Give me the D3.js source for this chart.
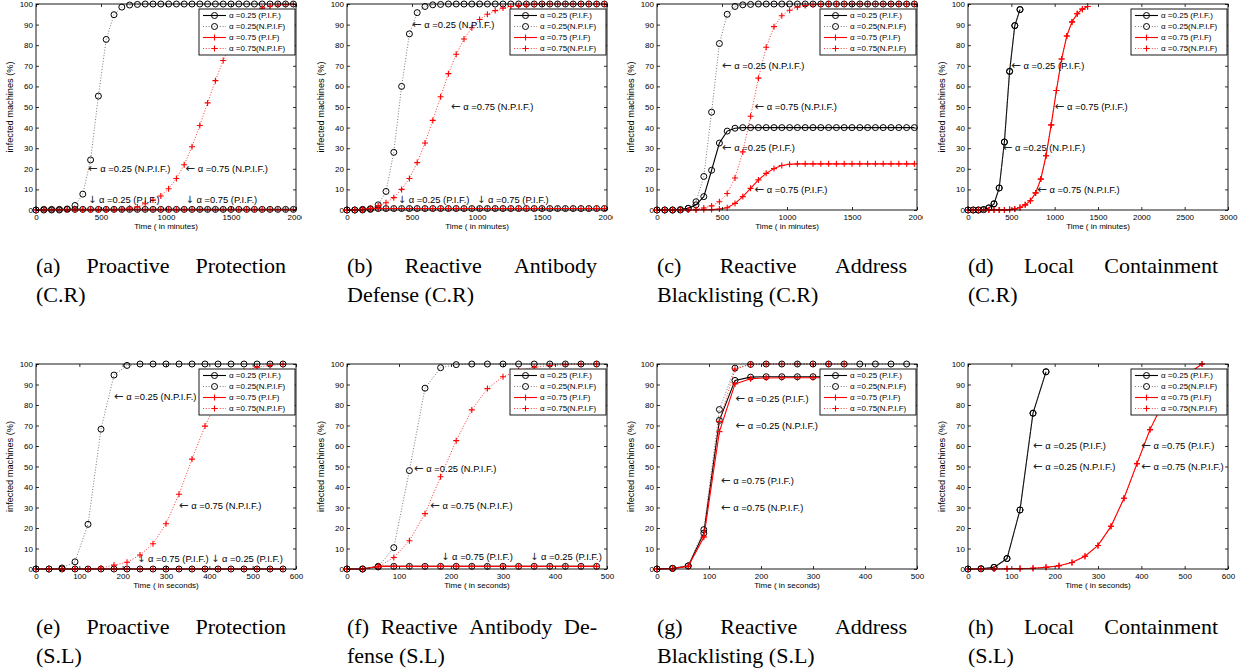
<!DOCTYPE html>
<html>
<head>
<meta charset="utf-8">
<style>
    body {
        margin: 0;
        background: #fff;
    }
    svg {
        display: block;
    }
</style>
<script src="https://cdn.jsdelivr.net/npm/d3@7"></script>
</head>
<body>
<svg id="fig" width="1255" height="672"></svg>
<script>
// time samples
var tMinutes = [0, 60, 120, 180, 240, 300, 360, 420, 480, 540, 600, 660, 720, 780, 840, 900, 960, 1020, 1080, 1140,
    1200, 1260, 1320, 1380, 1440, 1500, 1560, 1620, 1680, 1740, 1800, 1860, 1920, 1980];
var tSeconds = [0, 30, 60, 90, 120, 150, 180, 210, 240, 270, 300, 330, 360, 390, 420, 450, 480, 510, 540, 570];

var yTickValues = [0, 10, 20, 30, 40, 50, 60, 70, 80, 90, 100];
var xTicks2000 = [0, 500, 1000, 1500, 2000];
var xTicks3000 = [0, 500, 1000, 1500, 2000, 2500, 3000];
var xTicks600 = [0, 100, 200, 300, 400, 500, 600];
var xTicks500 = [0, 100, 200, 300, 400, 500];

var legendLabels = ['\u03b1 =0.25 (P.I.F.)', '\u03b1 =0.25(N.P.I.F)', '\u03b1 =0.75 (P.I.F)', '\u03b1 =0.75(N.P.I.F)'];

// (a) proactive protection, C.R
var aPif25 = [0, 0.3, 0.3, 0.3, 0.3, 0.3, 0.3, 0.3, 0.3, 0.3, 0.3, 0.3, 0.3, 0.3, 0.3, 0.3, 0.3, 0.3, 0.3, 0.3,
    0.3, 0.3, 0.3, 0.3, 0.3, 0.3, 0.3, 0.3, 0.3, 0.3, 0.3, 0.3, 0.3, 0.3];
var aNpif25 = [0, 0, 0, 0, 0.5, 2.2, 7.7, 24.3, 55.3, 82.8, 94.8, 98.5, 99.5, 99.8, 100, 100, 100, 100, 100, 100,
    100, 100, 100, 100, 100, 100, 100, 100, 100, 100, 100, 100, 100, 100];
var aPif75 = [0, 0.2, 0.2, 0.2, 0.2, 0.2, 0.2, 0.2, 0.2, 0.2, 0.2, 0.2, 0.2, 0.2, 0.2, 0.2, 0.2, 0.2, 0.2, 0.2,
    0.2, 0.2, 0.2, 0.2, 0.2, 0.2, 0.2, 0.2, 0.2, 0.2, 0.2, 0.2, 0.2, 0.2];
var aNpif75 = [0, 0, 0, 0, 0, 0, 0, 0, 0, 0, 0, 0.3, 1.0, 1.5, 3, 4.8, 6.8, 10.3, 15.3, 22,
    30.7, 41, 52, 62.8, 72.6, 81, 88, 93, 96, 98, 99, 99.5, 99.7, 99.9];

// (b) reactive antibody defense, C.R
var bPif25 = [0, 0, 0.3, 0.6, 0.7, 0.7, 0.7, 0.7, 0.7, 0.7, 0.7, 0.7, 0.7, 0.7, 0.7, 0.7, 0.7, 0.7, 0.7, 0.7,
    0.7, 0.7, 0.7, 0.7, 0.7, 0.7, 0.7, 0.7, 0.7, 0.7, 0.7, 0.7, 0.7, 0.7];
var bNpif25 = [0, 0, 0, 0.3, 2.5, 9, 28, 60, 85.5, 95.8, 98.8, 99.6, 99.8, 100, 100, 100, 100, 100, 100, 100,
    100, 100, 100, 100, 100, 100, 100, 100, 100, 100, 100, 100, 100, 100];
var bPif75 = [0, 0, 0.3, 0.6, 0.7, 0.7, 0.7, 0.7, 0.7, 0.7, 0.7, 0.7, 0.7, 0.7, 0.7, 0.7, 0.7, 0.7, 0.7, 0.7,
    0.7, 0.7, 0.7, 0.7, 0.7, 0.7, 0.7, 0.7, 0.7, 0.7, 0.7, 0.7, 0.7, 0.7];
var bNpif75 = [0, 0, 0, 0.7, 2, 3.5, 6, 10, 15.3, 23, 32.5, 43.5, 55, 66.2, 75.6, 83, 88.5, 92.5, 95, 96.8,
    98, 98.8, 99.3, 99.6, 99.8, 100, 100, 100, 100, 100, 100, 100, 100, 100];

// (c) reactive address blacklisting, C.R
var cPif25 = [0, 0, 0, 0.2, 0.8, 2.5, 6.5, 19.3, 32.5, 38.3, 39.7, 40, 40, 40, 40, 40, 40, 40, 40, 40,
    40, 40, 40, 40, 40, 40, 40, 40, 40, 40, 40, 40, 40, 40];
var cNpif25 = [0, 0, 0, 0, 0.8, 4, 16.3, 47.5, 80.8, 95, 98.8, 99.6, 99.8, 100, 100, 100, 100, 100, 100, 100,
    100, 100, 100, 100, 100, 100, 100, 100, 100, 100, 100, 100, 100, 100];
var cPif75 = [0, 0, 0, 0, 0, 0, 0.1, 0.2, 0.5, 1.1, 3.2, 6.5, 10.5, 14.6, 17.8, 20.1, 21.6, 22.2, 22.4, 22.4,
    22.4, 22.4, 22.4, 22.4, 22.4, 22.4, 22.4, 22.4, 22.4, 22.4, 22.4, 22.4, 22.4, 22.4];
var cNpif75 = [0, 0, 0, 0, 0, 0.3, 1, 2, 4, 8, 15.5, 28.2, 45.5, 64, 79, 89, 94.3, 97, 98.5, 99.3,
    99.6, 99.8, 100, 100, 100, 100, 100, 100, 100, 100, 100, 100, 100, 100];

// (d) local containment, C.R
var dPif25 = [0, 0, 0, 0.2, 1, 3, 10.7, 33, 67.3, 89.5, 97.3];
var dNpif25 = [0, 0, 0, 0.2, 1, 3, 10.7, 33, 67.3, 89.5, 97.3];
var dPif75 = [0, 0, 0, 0, 0, 0, 0, 0, 0.2, 0.5, 1.2, 2.5, 4.5, 8.3, 15, 26.3, 41.3, 58, 73.3, 84.5,
    91.3, 95.3, 97.5, 98.8];
var dNpif75 = [0, 0, 0, 0, 0, 0, 0, 0, 0.2, 0.5, 1.2, 2.5, 4.5, 8.3, 15, 26.3, 41.3, 58, 73.3, 84.5,
    91.3, 95.3, 97.5, 98.8];

// (e) proactive protection, S.L
var ePif25 = [0, 0, 0, 0, 0, 0, 0, 0, 0, 0, 0, 0, 0, 0, 0, 0, 0, 0, 0, 0];
var eNpif25 = [0, 0, 0.5, 3.5, 21.8, 68.2, 94.6, 99.3, 100, 100, 100, 100, 100, 100, 100, 100, 100, 100, 100, 100];
var ePif75 = [0, 0, 0, 0, 0, 0, 0, 0, 0, 0, 0, 0, 0, 0, 0, 0, 0, 0, 0, 0];
var eNpif75 = [0, 0, 0, 0, 0, 0.5, 1.9, 3.3, 6.8, 12.3, 22.1, 36.5, 53.6, 69.7, 83, 92, 96.5, 98.5, 99.3, 99.8];

// (f) reactive antibody defense, S.L
var fPif25 = [0, 0, 1.3, 1.3, 1.3, 1.3, 1.3, 1.3, 1.3, 1.3, 1.3, 1.3, 1.3, 1.3, 1.3, 1.3, 1.3];
var fNpif25 = [0, 0, 1, 10.4, 48, 88.2, 98.2, 99.7, 100, 100, 100, 100, 100, 100, 100, 100, 100];
var fPif75 = [0, 0, 1.3, 1.3, 1.3, 1.3, 1.3, 1.3, 1.3, 1.3, 1.3, 1.3, 1.3, 1.3, 1.3, 1.3, 1.3];
var fNpif75 = [0, 0, 1, 5.6, 13.8, 27, 45, 62.6, 77.6, 88, 93.8, 96.8, 98.4, 99.3, 99.7, 99.9, 100];

// (g) reactive address blacklisting, S.L
var gPif25 = [0, 0.3, 1.5, 17.5, 72.5, 92, 93.6, 93.8, 93.8, 93.8, 93.8, 93.8, 93.8, 93.8, 93.8, 93.8, 93.8];
var gNpif25 = [0, 0.3, 1.5, 19.2, 77.8, 98, 99.8, 100, 100, 100, 100, 100, 100, 100, 100, 100, 100];
var gPif75 = [0, 0.2, 1.3, 15.5, 67, 90.3, 92.8, 93.2, 93.3, 93.3, 93.3, 93.3, 93.3];
var gNpif75 = [0, 0.2, 1.3, 16, 72, 97.5, 99.8, 100, 100, 100, 100, 100, 100];

// (h) local containment, S.L
var hPif25 = [0, 0.1, 0.8, 5.1, 28.8, 76, 96.2];
var hNpif25 = [0, 0.1, 0.8, 5.1, 28.8, 76, 96.2];
var hPif75 = [0, 0, 0, 0.1, 0.2, 0.4, 0.8, 1.6, 3.2, 6.2, 11.5, 20.8, 34.5, 51.4, 68, 81, 90, 95.5, 100];
var hNpif75 = [0, 0, 0, 0.1, 0.2, 0.4, 0.8, 1.6, 3.2, 6.2, 11.5, 20.8, 34.5, 51.4, 68, 81, 90, 95.5, 100];

// text notes: [arrow, label, time, percent]
var aNotes = [['\u2190', '\u03b1 =0.25 (N.P.I.F.)', 400, 20], ['\u2190', '\u03b1 =0.75 (N.P.I.F.)', 1150, 20],
    ['\u2193', '\u03b1 =0.25 (P.I.F.)', 400, 5], ['\u2193', '\u03b1 =0.75 (P.I.F.)', 1150, 5]];
var bNotes = [['\u2190', '\u03b1 =0.25 (N.P.I.F.)', 500, 90], ['\u2190', '\u03b1 =0.75 (N.P.I.F.)', 800, 50],
    ['\u2193', '\u03b1 =0.25 (P.I.F.)', 390, 5], ['\u2193', '\u03b1 =0.75 (P.I.F.)', 1000, 5]];
var cNotes = [['\u2190', '\u03b1 =0.25 (N.P.I.F.)', 500, 70], ['\u2190', '\u03b1 =0.75 (N.P.I.F.)', 750, 50],
    ['\u2190', '\u03b1 =0.25 (P.I.F.)', 500, 30], ['\u2190', '\u03b1 =0.75 (P.I.F.)', 750, 10]];
var dNotes = [['\u2190', '\u03b1 =0.25 (P.I.F.)', 500, 70], ['\u2190', '\u03b1 =0.75 (P.I.F.)', 1000, 50],
    ['\u2190', '\u03b1 =0.25 (N.P.I.F.)', 400, 30], ['\u2190', '\u03b1 =0.75 (N.P.I.F.)', 800, 10]];
var eNotes = [['\u2190', '\u03b1 =0.25 (N.P.I.F.)', 180, 84], ['\u2190', '\u03b1 =0.75 (N.P.I.F.)', 330, 31],
    ['\u2193', '\u03b1 =0.75 (P.I.F.)', 233, 5], ['\u2193', '\u03b1 =0.25 (P.I.F.)', 404, 5]];
var fNotes = [['\u2190', '\u03b1 =0.25 (N.P.I.F.)', 129, 49], ['\u2190', '\u03b1 =0.75 (N.P.I.F.)', 160, 31],
    ['\u2193', '\u03b1 =0.75 (P.I.F.)', 181, 6], ['\u2193', '\u03b1 =0.25 (P.I.F.)', 352, 6]];
var gNotes = [['\u2190', '\u03b1 =0.25 (P.I.F.)', 151, 83], ['\u2190', '\u03b1 =0.25 (N.P.I.F.)', 151, 70],
    ['\u2190', '\u03b1 =0.75 (P.I.F.)', 123, 43], ['\u2190', '\u03b1 =0.75 (N.P.I.F.)', 123, 30]];
var hNotes = [['\u2190', '\u03b1 =0.25 (P.I.F.)', 150, 60], ['\u2190', '\u03b1 =0.25 (N.P.I.F.)', 150, 50],
    ['\u2190', '\u03b1 =0.75 (P.I.F.)', 400, 60], ['\u2190', '\u03b1 =0.75 (N.P.I.F.)', 400, 50]];

var captionFirst = ['(a) Proactive Protection', '(b) Reactive Antibody', '(c) Reactive Address', '(d) Local Containment',
    '(e) Proactive Protection', '(f) Reactive Antibody De-', '(g) Reactive Address', '(h) Local Containment'];
var captionSecond = ['(C.R)', 'Defense (C.R)', 'Blacklisting (C.R)', '(C.R)',
    '(S.L)', 'fense (S.L)', 'Blacklisting (S.L)', '(S.L)'];

var panels = [
    {t: tMinutes, xMax: 2000, xTicks: xTicks2000, series: [aPif25, aNpif25, aPif75, aNpif75], notes: aNotes, xlabel: 'Time ( in minutes)', clip: true},
    {t: tMinutes, xMax: 2000, xTicks: xTicks2000, series: [bPif25, bNpif25, bPif75, bNpif75], notes: bNotes, xlabel: 'Time ( in minutes)', clip: true},
    {t: tMinutes, xMax: 2000, xTicks: xTicks2000, series: [cPif25, cNpif25, cPif75, cNpif75], notes: cNotes, xlabel: 'Time ( in minutes)', clip: true},
    {t: tMinutes, xMax: 3000, xTicks: xTicks3000, series: [dPif25, dNpif25, dPif75, dNpif75], notes: dNotes, xlabel: 'Time ( in minutes)'},
    {t: tSeconds, xMax: 600, xTicks: xTicks600, series: [ePif25, eNpif25, ePif75, eNpif75], notes: eNotes, xlabel: 'Time ( in seconds)'},
    {t: tSeconds, xMax: 500, xTicks: xTicks500, series: [fPif25, fNpif25, fPif75, fNpif75], notes: fNotes, xlabel: 'Time ( in seconds)'},
    {t: tSeconds, xMax: 500, xTicks: xTicks500, series: [gPif25, gNpif25, gPif75, gNpif75], notes: gNotes, xlabel: 'Time ( in seconds)'},
    {t: tSeconds, xMax: 600, xTicks: xTicks600, series: [hPif25, hNpif25, hPif75, hNpif75], notes: hNotes, xlabel: 'Time ( in seconds)'}
];

// line styles in legend order
var styles = [
    {color: '#000', dotted: false, marker: 'circle'},
    {color: '#000', dotted: true, marker: 'circle'},
    {color: '#f00', dotted: false, marker: 'plus'},
    {color: '#f00', dotted: true, marker: 'plus'}
];

var sans = '"Liberation Sans", Arial, Helvetica, sans-serif';
var serif = '"Liberation Serif", "Times New Roman", serif';

var colLeft = [36, 347, 657, 968];
var rowTop = [4, 364];
var rowHeight = [206, 205];
var plotW = 260;
var captionBase = [[273, 302], [634, 663]];
var captionW = 250;

var svg = d3.select('#fig');
svg.append('rect').attr('width', 1255).attr('height', 672).attr('fill', '#fff');
var defs = svg.append('defs');

function drawMarker(sel, kind, color, cx, cy) {
    if (kind === 'circle') {
        sel.append('circle')
            .attr('cx', cx).attr('cy', cy).attr('r', 3)
            .attr('fill', 'none').attr('stroke', color).attr('stroke-width', 1);
    } else {
        sel.append('path')
            .attr('d', 'M' + (cx - 3) + ',' + cy + 'H' + (cx + 3) + 'M' + cx + ',' + (cy - 3) + 'V' + (cy + 3))
            .attr('stroke', color).attr('stroke-width', 1.1);
    }
}

function styleLine(sel, st) {
    sel.attr('fill', 'none')
        .attr('stroke', st.dotted && st.color === '#000' ? '#555' : st.color)
        .attr('stroke-width', st.dotted ? 0.8 : 1.1)
        .attr('stroke-dasharray', st.dotted ? '1,1.8' : null);
}

panels.forEach(function (p, k) {
    var col = k % 4, row = Math.floor(k / 4);
    var h = rowHeight[row];
    var g = svg.append('g')
        .attr('transform', 'translate(' + colLeft[col] + ',' + rowTop[row] + ')');

    if (p.clip) {
        defs.append('clipPath').attr('id', 'clip' + k)
            .append('rect').attr('x', -40).attr('y', -10).attr('width', plotW + 46).attr('height', h + 40);
        g.attr('clip-path', 'url(#clip' + k + ')');
    }

    var x = d3.scaleLinear().domain([0, p.xMax]).range([0, plotW]);
    var y = d3.scaleLinear().domain([0, 100]).range([h, 0]);

    var line = d3.line()
        .x(function (v, i) { return x(p.t[i]); })
        .y(function (v) { return y(v); });

    // curves + markers
    p.series.forEach(function (vals, si) {
        var st = styles[si];
        g.append('path').datum(vals).attr('d', line).call(styleLine, st);
        var mg = g.append('g');
        vals.forEach(function (v, i) {
            drawMarker(mg, st.marker, st.color, x(p.t[i]), y(v));
        });
    });

    // notes
    var nt = g.selectAll('text.note')
        .data(p.notes)
        .enter().append('text')
        .attr('class', 'note')
        .attr('x', function (d) { return x(d[2]); })
        .attr('y', function (d) { return y(d[3]); })
        .attr('dy', '0.35em')
        .attr('font-family', sans)
        .attr('font-size', 9.4);
    // arrow glyph, forced to text presentation
    nt.append('tspan')
        .attr('font-family', '"DejaVu Sans"')
        .attr('font-size', function (d) { return d[0] === '\u2190' ? 11.5 : 10; })
        .attr('fill', '#222')
        .text(function (d) { return d[0] + '\uFE0E'; });
    nt.append('tspan')
        .text(function (d) { return ' ' + d[1]; });

    // axes with inward ticks on all four sides
    var axL = g.append('g').call(d3.axisLeft(y).tickValues(yTickValues).tickSize(-3).tickPadding(3));
    var axR = g.append('g').attr('transform', 'translate(' + plotW + ',0)')
        .call(d3.axisRight(y).tickValues(yTickValues).tickSize(-3).tickFormat(''));
    var axB = g.append('g').attr('transform', 'translate(0,' + h + ')')
        .call(d3.axisBottom(x).tickValues(p.xTicks).tickSize(-3).tickPadding(4).tickFormat(d3.format('d')));
    var axT = g.append('g')
        .call(d3.axisTop(x).tickValues(p.xTicks).tickSize(-3).tickFormat(''));
    [axL, axR, axB, axT].forEach(function (a) {
        a.select('.domain').remove();
        a.selectAll('line').attr('stroke', '#000').attr('stroke-width', 0.8);
        a.selectAll('text').attr('font-family', sans).attr('font-size', 8).attr('fill', '#000');
    });

    g.append('rect')
        .attr('width', plotW).attr('height', h)
        .attr('fill', 'none').attr('stroke', '#000').attr('stroke-width', 0.9);

    g.append('text')
        .attr('x', plotW / 2).attr('y', h + 19)
        .attr('text-anchor', 'middle')
        .attr('font-family', sans).attr('font-size', 8)
        .text(p.xlabel);

    g.append('text')
        .attr('transform', 'translate(-23,' + (h / 2) + ') rotate(-90)')
        .attr('text-anchor', 'middle')
        .attr('font-family', sans).attr('font-size', 9.2)
        .text('infected machines (%)');

    // legend
    var lg = g.append('g').attr('transform', 'translate(' + (plotW - 97) + ',5)');
    lg.append('rect').attr('width', 96).attr('height', 46)
        .attr('fill', '#fff').attr('stroke', '#000').attr('stroke-width', 0.9);
    legendLabels.forEach(function (lab, i) {
        var cy = 6.5 + i * 11;
        lg.append('line').attr('x1', 4).attr('x2', 27).attr('y1', cy).attr('y2', cy).call(styleLine, styles[i]);
        drawMarker(lg, styles[i].marker, styles[i].color, 15.5, cy);
        lg.append('text').attr('x', 30).attr('y', cy).attr('dy', '0.35em')
            .attr('font-family', sans).attr('font-size', 8)
            .text(lab);
    });

    // caption, first line justified
    var cx0 = colLeft[col];
    var words = captionFirst[k].split(' ');
    var ws = svg.append('g');
    var tw = ws.selectAll('text').data(words).enter().append('text')
        .attr('y', captionBase[row][0])
        .attr('font-family', serif).attr('font-size', 22)
        .text(function (d) { return d; });
    var widths = tw.nodes().map(function (n) { return n.getComputedTextLength(); });
    var gap = (captionW - d3.sum(widths)) / (words.length - 1);
    var pos = [], acc = cx0;
    widths.forEach(function (w) { pos.push(acc); acc += w + gap; });
    tw.attr('x', function (d, i) { return pos[i]; });

    svg.append('text')
        .attr('x', cx0).attr('y', captionBase[row][1])
        .attr('font-family', serif).attr('font-size', 22)
        .text(captionSecond[k]);
});
</script>
</body>
</html>
